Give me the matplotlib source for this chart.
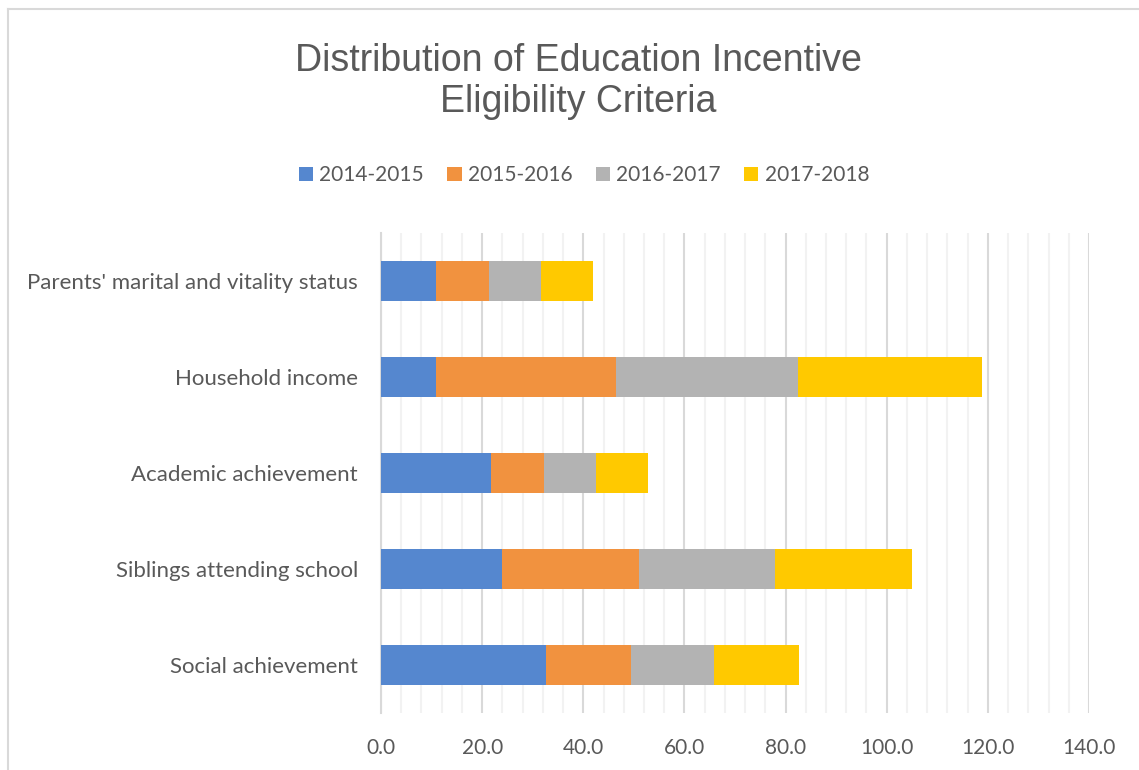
import matplotlib
matplotlib.use("Agg")
import matplotlib.pyplot as plt
from matplotlib.lines import Line2D
from matplotlib.ticker import MultipleLocator, FormatStrFormatter

categories = ["Parents' marital and vitality status", "Household income",
              "Academic achievement", "Siblings attending school", "Social achievement"]
years = ["2014-2015", "2015-2016", "2016-2017", "2017-2018"]
v2014 = [10.8, 10.8, 21.7, 23.9, 32.6]
v2015 = [10.5, 35.6, 10.5, 27.2, 16.8]
v2016 = [10.3, 36.1, 10.3, 26.9, 16.5]
v2017 = [10.3, 36.3, 10.3, 27.0, 16.7]
colors = ["#5587CF", "#F1923F", "#B3B3B3", "#FFC900"]

text_col = "#595959"
label_font = "Lato"

fig = plt.figure(figsize=(11.39, 7.70), dpi=100)
ax = fig.add_axes([381 / 1139, 1 - 713 / 770, 708 / 1139, 480 / 770])

ypos = list(range(len(categories)))
left = [0.0] * len(categories)
for vals, col, name in zip([v2014, v2015, v2016, v2017], colors, years):
    ax.barh(ypos, vals, left=left, height=0.41, color=col, label=name, zorder=3)
    left = [a + b for a, b in zip(left, vals)]

ax.set_xlim(0, 140)
ax.set_ylim(len(categories) - 0.5, -0.5)
ax.xaxis.set_major_locator(MultipleLocator(20))
ax.xaxis.set_minor_locator(MultipleLocator(4))
ax.xaxis.set_major_formatter(FormatStrFormatter("%.1f"))
ax.grid(which="major", axis="x", color="#D9D9D9", linewidth=1.5, zorder=1)
ax.grid(which="minor", axis="x", color="#F2F2F2", linewidth=1.5, zorder=0)
ax.set_yticks(ypos)
ax.set_yticklabels(categories)
for s in ["top", "right", "bottom"]:
    ax.spines[s].set_visible(False)
ax.spines["left"].set_color("#D9D9D9")
ax.spines["left"].set_linewidth(1.5)
ax.tick_params(axis="both", which="both", length=0, labelcolor=text_col)
ax.tick_params(axis="x", pad=18, labelsize=15)
ax.tick_params(axis="y", pad=16.5, labelsize=16)
for lab in ax.get_xticklabels() + ax.get_yticklabels():
    lab.set_fontfamily(label_font)

fig.text(0.5075, 1 - 81.5 / 770, "Distribution of Education Incentive\nEligibility Criteria",
         ha="center", va="center", fontsize=27, color=text_col,
         family="Liberation Sans", linespacing=1.15)

leg = fig.legend(loc="center", bbox_to_anchor=(584 / 1139, 1 - 175 / 770), ncol=4,
                 frameon=False, handlelength=0.68, handleheight=0.68,
                 handletextpad=0.3, columnspacing=1.12,
                 prop={"family": label_font, "size": 15})
for t in leg.get_texts():
    t.set_color(text_col)

# chart border (left and top edges visible)
fig.add_artist(Line2D([7.5 / 1139, 7.5 / 1139], [0, 1 - 8.5 / 770],
                      transform=fig.transFigure, color="#D9D9D9", linewidth=1.5))
fig.add_artist(Line2D([7.5 / 1139, 1], [1 - 8.5 / 770, 1 - 8.5 / 770],
                      transform=fig.transFigure, color="#D9D9D9", linewidth=1.5))

fig.savefig("out.png", dpi=100)
